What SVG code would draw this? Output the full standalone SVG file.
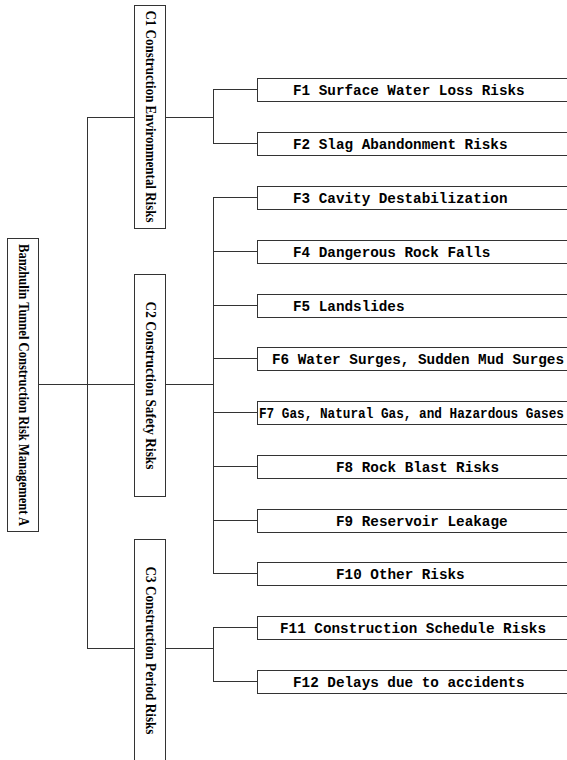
<svg xmlns="http://www.w3.org/2000/svg" width="567" height="760" viewBox="0 0 567 760">
<style>
rect{fill:#fff;stroke:#333;stroke-width:1}
.c line{stroke:#333;stroke-width:1}
.v{font-family:"Liberation Serif",serif;font-weight:bold;font-size:14px;fill:#000;text-anchor:middle;dominant-baseline:central}
.f{font-family:"Liberation Mono",monospace;font-weight:bold;font-size:14.3px;fill:#000}
</style>
<rect x="0" y="0" width="567" height="760" style="stroke:none"/>
<g class="c" id="connectors">
<line x1="38" y1="384.5" x2="134" y2="384.5"/>
<line x1="87.5" y1="117" x2="87.5" y2="648"/>
<line x1="87" y1="117.5" x2="134" y2="117.5"/>
<line x1="87" y1="648.5" x2="134" y2="648.5"/>
<line x1="166" y1="117.5" x2="213.5" y2="117.5"/>
<line x1="213.5" y1="89.5" x2="213.5" y2="143.5"/>
<line x1="213" y1="89.5" x2="257" y2="89.5"/>
<line x1="213" y1="143.5" x2="257" y2="143.5"/>
<line x1="166" y1="384.5" x2="213.5" y2="384.5"/>
<line x1="213.5" y1="197.5" x2="213.5" y2="573.5"/>
<line x1="213" y1="197.5" x2="257" y2="197.5"/>
<line x1="213" y1="251.5" x2="257" y2="251.5"/>
<line x1="213" y1="305.5" x2="257" y2="305.5"/>
<line x1="213" y1="358.5" x2="257" y2="358.5"/>
<line x1="213" y1="412.5" x2="257" y2="412.5"/>
<line x1="213" y1="466.5" x2="257" y2="466.5"/>
<line x1="213" y1="520.5" x2="257" y2="520.5"/>
<line x1="213" y1="573.5" x2="257" y2="573.5"/>
<line x1="166" y1="648.5" x2="213.5" y2="648.5"/>
<line x1="213.5" y1="627.5" x2="213.5" y2="681.5"/>
<line x1="213" y1="627.5" x2="257" y2="627.5"/>
<line x1="213" y1="681.5" x2="257" y2="681.5"/>
</g>
<g id="A"><rect x="7.5" y="238.5" width="31" height="293"/><text class="v" transform="translate(23,385) rotate(90)" textLength="282" lengthAdjust="spacingAndGlyphs">Banzhulin Tunnel Construction Risk Management A</text></g>
<g id="C1"><rect x="134.5" y="5.5" width="31" height="223"/><text class="v" transform="translate(150,116.5) rotate(90)" textLength="212" lengthAdjust="spacingAndGlyphs">C1 Construction Environmental Risks</text></g>
<g id="C2"><rect x="134.5" y="274.5" width="31" height="222"/><text class="v" transform="translate(150,385.5) rotate(90)" textLength="168" lengthAdjust="spacingAndGlyphs">C2 Construction Safety Risks</text></g>
<g id="C3"><rect x="134.5" y="539.5" width="31" height="225"/><text class="v" transform="translate(150,650.5) rotate(90)" textLength="168" lengthAdjust="spacingAndGlyphs">C3 Construction Period Risks</text></g>
<g id="F1"><rect x="257.5" y="78.5" width="340" height="23"/><text class="f" x="293" y="95">F1 Surface Water Loss Risks</text></g>
<g id="F2"><rect x="257.5" y="132.5" width="340" height="23"/><text class="f" x="293" y="149">F2 Slag Abandonment Risks</text></g>
<g id="F3"><rect x="257.5" y="186.5" width="340" height="23"/><text class="f" x="293" y="203">F3 Cavity Destabilization</text></g>
<g id="F4"><rect x="257.5" y="240.5" width="340" height="23"/><text class="f" x="293" y="257">F4 Dangerous Rock Falls</text></g>
<g id="F5"><rect x="257.5" y="294.5" width="340" height="23"/><text class="f" x="293" y="311">F5 Landslides</text></g>
<g id="F6"><rect x="257.5" y="347.5" width="340" height="23"/><text class="f" x="272" y="364" textLength="292" lengthAdjust="spacingAndGlyphs">F6 Water Surges, Sudden Mud Surges</text></g>
<g id="F7"><rect x="257.5" y="401.5" width="340" height="23"/><text class="f" x="259" y="418" textLength="305" lengthAdjust="spacingAndGlyphs">F7 Gas, Natural Gas, and Hazardous Gases</text></g>
<g id="F8"><rect x="257.5" y="455.5" width="340" height="23"/><text class="f" x="336" y="472">F8 Rock Blast Risks</text></g>
<g id="F9"><rect x="257.5" y="509.5" width="340" height="23"/><text class="f" x="336" y="526">F9 Reservoir Leakage</text></g>
<g id="F10"><rect x="257.5" y="562.5" width="340" height="23"/><text class="f" x="336" y="579">F10 Other Risks</text></g>
<g id="F11"><rect x="257.5" y="616.5" width="340" height="23"/><text class="f" x="280" y="633">F11 Construction Schedule Risks</text></g>
<g id="F12"><rect x="257.5" y="670.5" width="340" height="23"/><text class="f" x="293" y="687">F12 Delays due to accidents</text></g>
</svg>
